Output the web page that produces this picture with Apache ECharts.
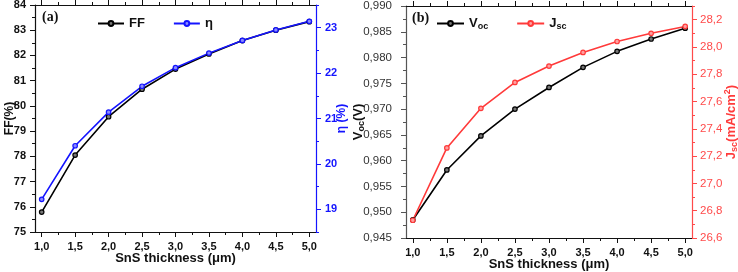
<!DOCTYPE html>
<html>
<head>
<meta charset="utf-8">
<script src="https://cdn.jsdelivr.net/npm/echarts@6/dist/echarts.min.js"></script>
<style>
  html, body { margin: 0; padding: 0; background: #fff; }
  #chart { width: 738px; height: 272px; }
</style>
</head>
<body>
<div id="chart"></div>
<script>
// SnS thickness (µm)
const thickness = [1.0, 1.5, 2.0, 2.5, 3.0, 3.5, 4.0, 4.5, 5.0];
// (a)
const ff = [75.79, 78.05, 79.57, 80.66, 81.46, 82.06, 82.59, 83.0, 83.34];
const eta = [19.22, 20.40, 21.14, 21.71, 22.12, 22.44, 22.72, 22.95, 23.14];
// (b)
const voc = [0.9485, 0.9582, 0.9648, 0.9700, 0.9742, 0.9781, 0.9812, 0.9836, 0.9857];
const jsc = [26.73, 27.26, 27.55, 27.74, 27.86, 27.96, 28.04, 28.10, 28.15];

// tick labels
const xMajor = [1.0, 1.5, 2.0, 2.5, 3.0, 3.5, 4.0, 4.5, 5.0];
const xMinor = [1.25, 1.75, 2.25, 2.75, 3.25, 3.75, 4.25, 4.75];
const ffMajor = [75, 76, 77, 78, 79, 80, 81, 82, 83, 84];
const ffMinor = [75.5, 76.5, 77.5, 78.5, 79.5, 80.5, 81.5, 82.5, 83.5];
const etaMajor = [19, 20, 21, 22, 23];
const etaMinor = [18.5, 19.5, 20.5, 21.5, 22.5, 23.5];
const vocMajor = [0.945, 0.950, 0.955, 0.960, 0.965, 0.970, 0.975, 0.980, 0.985, 0.990];
const vocMinor = [0.9475, 0.9525, 0.9575, 0.9625, 0.9675, 0.9725, 0.9775, 0.9825, 0.9875];
const jscMajor = [26.6, 26.8, 27.0, 27.2, 27.4, 27.6, 27.8, 28.0, 28.2];
const jscMinor = [26.7, 26.9, 27.1, 27.3, 27.5, 27.7, 27.9, 28.1, 28.3];

const FONT = "Liberation Sans";
const BLUE = "#1414ff";
const RED = "#ff3a3a";

const comma = d => v => v.toFixed(d).replace(".", ",");

// one axis with major ticks (+ labels), one hidden axis only for the minor ticks
function axisPair(base, major, minor, color, label, extra) {
  const main = Object.assign({
    type: "value",
    splitLine: { show: false },
    nameMoveOverlap: false,
    axisLine: { show: true, onZero: false, lineStyle: { color: color, width: 1.2 } },
    axisTick: { show: true, length: 5, customValues: major, lineStyle: { color: color, width: 1 } },
    axisLabel: label
      ? Object.assign({ show: true, customValues: major }, label)
      : { show: false }
  }, base, extra || {});
  const minorAx = Object.assign({
    type: "value",
    splitLine: { show: false },
    axisLine: { show: false },
    axisTick: { show: true, length: 3, customValues: minor, lineStyle: { color: color, width: 1 } },
    axisLabel: { show: false }
  }, base);
  return [main, minorAx];
}

const xLabel = {
  formatter: comma(1), margin: 9, color: "#111", fontFamily: FONT, fontWeight: "bold", fontSize: 11
};
const xName = {
  name: "SnS thickness (\u03bcm)", nameLocation: "middle", nameGap: 20,
  nameTextStyle: { color: "#111", fontFamily: FONT, fontWeight: "bold", fontSize: 13 }
};

const xAxes = [].concat(
  axisPair({ gridIndex: 0, position: "bottom", min: 0.9, max: 5.1 }, xMajor, xMinor, "#111", xLabel, xName),
  axisPair({ gridIndex: 0, position: "top", min: 0.9, max: 5.1 }, xMajor, xMinor, "#111", null),
  axisPair({ gridIndex: 1, position: "bottom", min: 0.9, max: 5.1 }, xMajor, xMinor, "#111", xLabel, xName),
  axisPair({ gridIndex: 1, position: "top", min: 0.9, max: 5.1 }, xMajor, xMinor, "#111", null)
);

const yAxes = [].concat(
  axisPair({ gridIndex: 0, position: "left", min: 75, max: 84 }, ffMajor, ffMinor, "#111",
    { formatter: v => String(v), margin: 9, color: "#111", fontFamily: FONT, fontWeight: "bold", fontSize: 11 },
    { name: "FF(%)", nameLocation: "middle", nameGap: 19, nameRotate: 90,
      nameTextStyle: { color: "#111", fontFamily: FONT, fontWeight: "bold", fontSize: 12 } }),
  axisPair({ gridIndex: 0, position: "right", min: 18.5, max: 23.5 }, etaMajor, etaMinor, BLUE,
    { formatter: v => String(v), margin: 9, color: BLUE, fontFamily: FONT, fontWeight: "bold", fontSize: 11 },
    { name: "\u03b7 (%)", nameLocation: "middle", nameGap: 20, nameRotate: 90,
      nameTextStyle: { color: BLUE, fontFamily: FONT, fontWeight: "bold", fontSize: 12 } }),
  axisPair({ gridIndex: 1, position: "left", min: 0.945, max: 0.990 }, vocMajor, vocMinor, "#555",
    { formatter: comma(3), margin: 14, color: "#333", fontFamily: FONT, fontSize: 11.5 },
    { name: "{b|V}{s|oc}{b|(V)}", nameLocation: "middle", nameGap: 40, nameRotate: 90,
      nameTextStyle: { color: "#111", rich: {
        b: { fontFamily: FONT, fontWeight: "bold", fontSize: 13, color: "#111" },
        s: { fontFamily: FONT, fontWeight: "bold", fontSize: 9, color: "#111", padding: [7, 0, 0, 0] }
      } } }),
  axisPair({ gridIndex: 1, position: "right", min: 26.6, max: 28.3 }, jscMajor, jscMinor, "#ff4a4a",
    { formatter: comma(1), margin: 8, color: "#ff4a4a", fontFamily: FONT, fontSize: 11.5 },
    { name: "{b|J}{s|sc}{b|(mA/cm}{p|2}{b|)}", nameLocation: "middle", nameGap: 31, nameRotate: 90,
      nameTextStyle: { color: RED, rich: {
        b: { fontFamily: FONT, fontWeight: "bold", fontSize: 13, color: RED },
        s: { fontFamily: FONT, fontWeight: "bold", fontSize: 9, color: RED, padding: [7, 0, 0, 0] },
        p: { fontFamily: FONT, fontWeight: "bold", fontSize: 9, color: RED, padding: [0, 0, 7, 0] }
      } } })
);

function lineSeries(name, data, color, fill, xi, yi) {
  return {
    name: name, type: "line", xAxisIndex: xi, yAxisIndex: yi,
    data: thickness.map((t, i) => [t, data[i]]),
    symbol: "circle", symbolSize: 4.5, showSymbol: true,
    lineStyle: { color: color, width: 1.6 },
    itemStyle: { color: fill, borderColor: color, borderWidth: 1.2 },
    animation: false
  };
}

const chart = echarts.init(document.getElementById("chart"), null, { renderer: "canvas" });
chart.setOption({
  backgroundColor: "#fff",
  animation: false,
  grid: [
    { left: 35, top: 5, width: 281, height: 227, outerBoundsMode: "none" },
    { left: 406, top: 6, width: 286, height: 232, outerBoundsMode: "none" }
  ],
  xAxis: xAxes,
  yAxis: yAxes,
  legend: [
    {
      left: 92, top: 12, data: ["FF", "\u03b7"], itemWidth: 26, itemHeight: 6, itemGap: 28,
      textStyle: { fontFamily: FONT, fontWeight: "bold", fontSize: 13, color: "#111" }
    },
    {
      left: 431, top: 12, data: ["Voc", "Jsc"], itemWidth: 27, itemHeight: 6, itemGap: 28,
      formatter: n => n === "Voc" ? "{b|V}{s|oc}" : "{b|J}{s|sc}",
      textStyle: { rich: {
        b: { fontFamily: FONT, fontWeight: "bold", fontSize: 13, color: "#111" },
        s: { fontFamily: FONT, fontWeight: "bold", fontSize: 9, color: "#111", padding: [7, 0, 0, 0] }
      } }
    }
  ],
  graphic: [
    { type: "text", left: 42, top: 10, style: { text: "(a)", font: "bold 14px 'Liberation Serif'", fill: "#111" } },
    { type: "text", left: 412, top: 11, style: { text: "(b)", font: "bold 14px 'Liberation Serif'", fill: "#111" } }
  ],
  series: [
    lineSeries("FF", ff, "#000", "#777", 0, 0),
    lineSeries("\u03b7", eta, BLUE, "#8a8aff", 0, 2),
    lineSeries("Voc", voc, "#000", "#777", 4, 4),
    lineSeries("Jsc", jsc, RED, "#ffa0a0", 4, 6)
  ]
});
</script>
</body>
</html>
